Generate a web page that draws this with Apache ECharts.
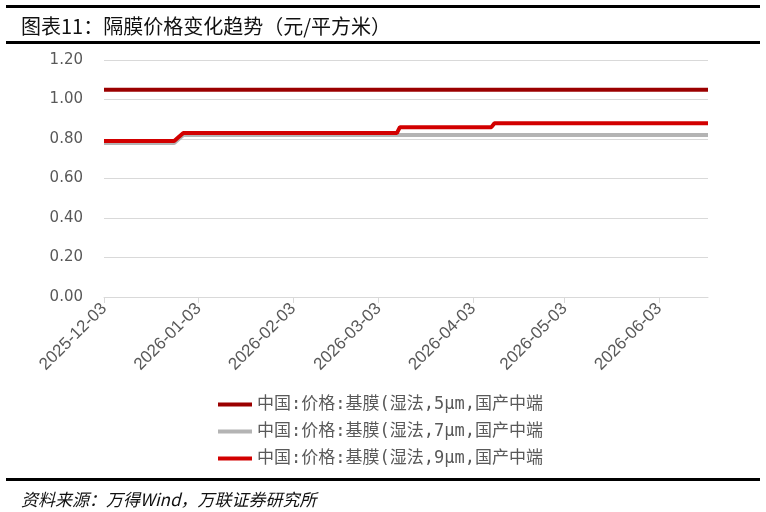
<!DOCTYPE html>
<html>
<head>
<meta charset="utf-8">
<script src="https://cdn.jsdelivr.net/npm/echarts@6/dist/echarts.min.js"></script>
<style>
html,body{margin:0;padding:0;background:#fff;}
#chart{width:766px;height:512px;}
</style>
</head>
<body>
<div id="chart"></div>
<script>
// ---- data ----
const seriesNames = [
  '中国:价格:基膜(湿法,5μm,国产中端',
  '中国:价格:基膜(湿法,7μm,国产中端',
  '中国:价格:基膜(湿法,9μm,国产中端'
];
const dates5 = ['2025-12-03', '2026-06-19'];
const values5 = [1.05, 1.05];
const dates7 = ['2025-12-03', '2025-12-26', '2025-12-29', '2026-06-19'];
const values7 = [0.78, 0.78, 0.82, 0.82];
const dates9 = ['2025-12-03', '2025-12-26', '2025-12-29', '2026-03-09', '2026-03-10', '2026-04-09', '2026-04-10', '2026-06-19'];
const values9 = [0.79, 0.79, 0.83, 0.83, 0.86, 0.86, 0.88, 0.88];
const xTickDates = ['2025-12-03', '2026-01-03', '2026-02-03', '2026-03-03', '2026-04-03', '2026-05-03', '2026-06-03'];
const xMin = '2025-12-03';
const xMax = '2026-06-19';
const colors = ['#9b0000', '#b4b4b4', '#d20000'];

function ts(s) { const p = s.split('-').map(Number); return new Date(p[0], p[1] - 1, p[2]).getTime(); }
function pad(n) { return (n < 10 ? '0' : '') + n; }
function fmt(v) { const d = new Date(v); return d.getFullYear() + '-' + pad(d.getMonth() + 1) + '-' + pad(d.getDate()); }
function pairs(ds, vs) { return ds.map((d, i) => [ts(d), vs[i]]); }

const chart = echarts.init(document.getElementById('chart'), null, { renderer: 'canvas' });
const gray = '#595959';
const option = {
  animation: false,
  backgroundColor: '#fff',
  title: [{
    text: '图表11：隔膜价格变化趋势（元/平方米）',
    left: 16, top: 11,
    textStyle: { fontFamily: 'Noto Sans CJK SC', fontSize: 20, fontWeight: 'normal', color: '#111' }
  }, {
    text: '资料来源：万得Wind，万联证券研究所',
    left: 16, top: 486,
    textStyle: { fontFamily: 'Noto Sans CJK SC', fontSize: 17, fontWeight: 'normal', fontStyle: 'italic', color: '#111' }
  }],
  graphic: [
    { type: 'rect', shape: { x: 6, y: 5, width: 754, height: 3 }, style: { fill: '#000' } },
    { type: 'rect', shape: { x: 6, y: 41, width: 754, height: 3 }, style: { fill: '#000' } },
    { type: 'rect', shape: { x: 6, y: 478, width: 754, height: 3 }, style: { fill: '#000' } }
  ],
  grid: { left: 104, right: 58, top: 60, bottom: 215, containLabel: false },
  xAxis: {
    type: 'value',
    min: ts(xMin), max: ts(xMax),
    axisLine: { lineStyle: { color: '#d9d9d9', width: 1 } },
    axisTick: { show: true, length: 6, lineStyle: { color: '#d9d9d9' }, customValues: xTickDates.map(ts) },
    splitLine: { show: false },
    axisLabel: {
      customValues: xTickDates.map(ts),
      rotate: 45, color: gray, fontSize: 17, fontFamily: 'Liberation Sans Narrow, Liberation Sans', margin: 9,
      formatter: fmt
    }
  },
  yAxis: {
    type: 'value', min: 0, max: 1.2, interval: 0.2,
    axisLine: { show: false }, axisTick: { show: false },
    splitLine: { lineStyle: { color: '#d9d9d9', width: 1 } },
    axisLabel: { color: gray, fontSize: 15, fontFamily: 'DejaVu Sans', margin: 21, formatter: v => v.toFixed(2) }
  },
  legend: {
    orient: 'vertical', left: 213, top: 391, itemGap: 10,
    itemWidth: 34, itemHeight: 4, icon: 'rect',
    textStyle: { color: gray, fontSize: 17, fontFamily: '"DejaVu Sans Mono", "Noto Sans CJK SC"' },
    data: seriesNames
  },
  series: [
    { name: seriesNames[0], type: 'line', data: pairs(dates5, values5), showSymbol: false, symbol: 'none', lineStyle: { width: 4, color: colors[0] }, itemStyle: { color: colors[0] } },
    { name: seriesNames[1], type: 'line', data: pairs(dates7, values7), showSymbol: false, symbol: 'none', lineStyle: { width: 4, color: colors[1] }, itemStyle: { color: colors[1] } },
    { name: seriesNames[2], type: 'line', data: pairs(dates9, values9), showSymbol: false, symbol: 'none', lineStyle: { width: 4, color: colors[2] }, itemStyle: { color: colors[2] } }
  ]
};
chart.setOption(option);
</script>
</body>
</html>
